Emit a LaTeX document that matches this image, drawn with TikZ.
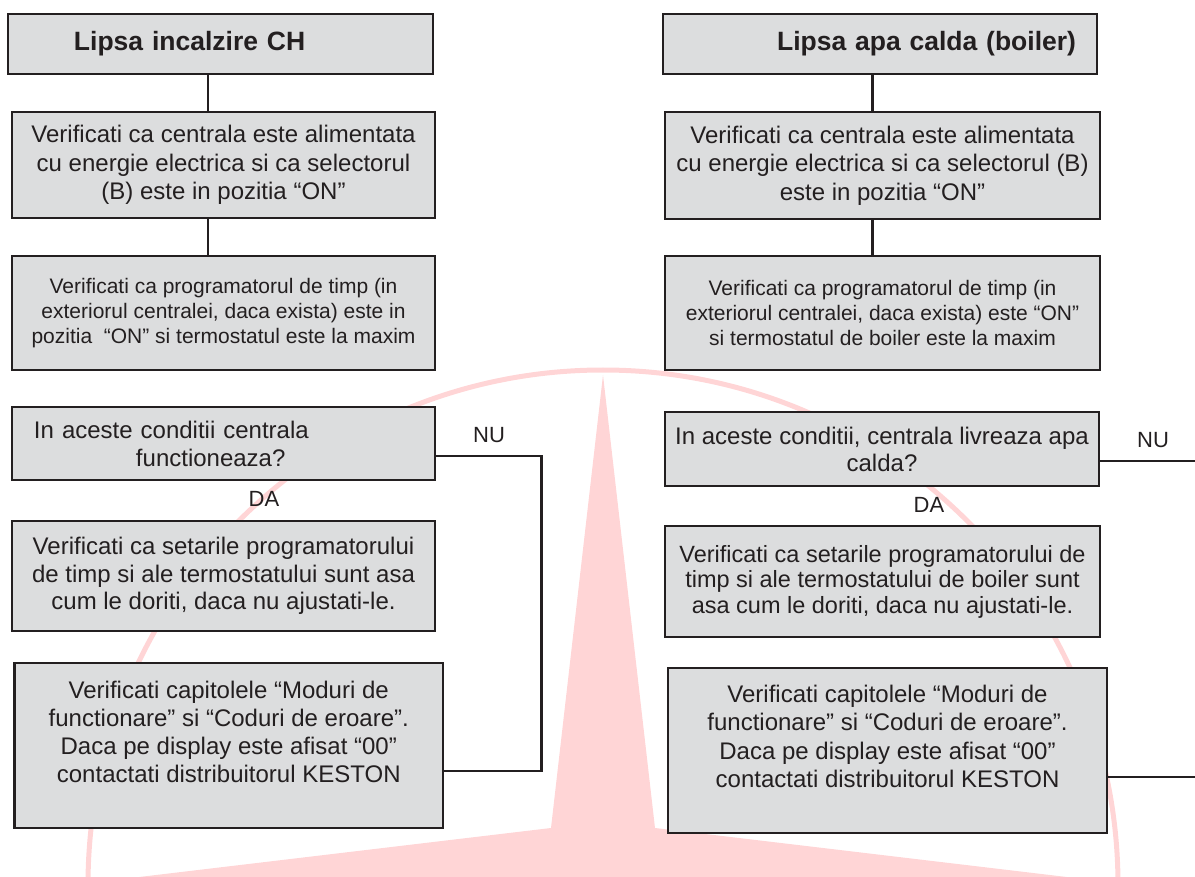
\documentclass[tikz,border=0pt]{standalone}
\usepackage{fontspec}
\setmainfont{Liberation Sans}
\definecolor{boxgray}{RGB}{220,221,222}
\definecolor{ink}{RGB}{35,31,32}
\definecolor{wmpink}{RGB}{255,213,214}
\tikzset{
  bx/.style={draw=ink, fill=boxgray, line width=2.7pt, inner sep=0pt, text=ink, align=center,
    font=\fontsize{24}{28.5}\selectfont},
  lbl/.style={text=ink, inner sep=0pt, font=\fontsize{22}{26}\selectfont},
  link/.style={draw=ink, line width=2.4pt},
}
\begin{document}
\begin{tikzpicture}[x=1pt,y=-1pt]
\useasboundingbox (0,0) rectangle (1195,877);
% watermark
\begin{scope}
  \clip (0,0) rectangle (1195,877);
  \fill[wmpink] (603,375) -- (655,828) -- (1134,885) -- (655,942) -- (603,1395) -- (551,942) -- (72,885) -- (551,828) -- cycle;
  \draw[wmpink, line width=5pt] (603,885) circle[radius=515pt];
\end{scope}

% left column
\node[bx, minimum width=425pt, minimum height=60pt, text width=425pt, align=left,
      font=\fontsize{26.5}{30}\selectfont\bfseries] (L1) at (220.5,44) {\hspace*{66pt}Lipsa incalzire CH};
\node[bx, minimum width=423pt, minimum height=106pt] (L2) at (223.5,165)
  {Verificati ca centrala este alimentata\\cu energie electrica si ca selectorul\\(B) este in pozitia “ON”};
\node[bx, minimum width=423pt, minimum height=114pt, font=\fontsize{21}{25}\selectfont] (L3) at (223.5,313)
  {Verificati ca programatorul de timp (in\\exteriorul centralei, daca exista) este in\\pozitia\ \ “ON” si termostatul este la maxim};
\node[bx, minimum width=423pt, minimum height=73pt, text width=423pt, align=left,
      font=\fontsize{24}{28}\selectfont] (L4) at (223.5,443.5)
  {\hspace*{22pt}In aceste conditii centrala\\\hspace*{124pt}functioneaza?};
\node[bx, minimum width=423pt, minimum height=110pt, font=\fontsize{24}{27.5}\selectfont] (L5) at (223.5,576)
  {Verificati ca setarile programatorului\\de timp si ale termostatului sunt asa\\cum le doriti, daca nu ajustati-le.};
\node[bx, minimum width=428.5pt, minimum height=165pt, font=\fontsize{24}{28}\selectfont] (L6) at (228.75,745.5)
  {Verificati capitolele “Moduri de\\functionare” si “Coduri de eroare”.\\Daca pe display este afisat “00”\\contactati distribuitorul KESTON\\\mbox{}};

% right column
\node[bx, minimum width=434pt, minimum height=60pt, text width=434pt, align=right,
      font=\fontsize{26.5}{30}\selectfont\bfseries] (R1) at (880,44) {Lipsa apa calda (boiler)\hspace*{21pt}};
\node[bx, minimum width=435pt, minimum height=107pt] (R2) at (882.5,165.5)
  {Verificati ca centrala este alimentata\\cu energie electrica si ca selectorul (B)\\este in pozitia “ON”};
\node[bx, minimum width=435pt, minimum height=114pt, font=\fontsize{21}{25}\selectfont] (R3) at (882.5,313)
  {Verificati ca programatorul de timp (in\\exteriorul centralei, daca exista) este “ON”\\si termostatul de boiler este la maxim};
\node[bx, minimum width=434pt, minimum height=74pt, font=\fontsize{24}{27}\selectfont] (R4) at (882,449)
  {In aceste conditii, centrala livreaza apa\\calda?};
\node[bx, minimum width=435pt, minimum height=111pt, font=\fontsize{23.5}{25.5}\selectfont] (R5) at (882.5,581.5)
  {Verificati ca setarile programatorului de\\timp si ale termostatului de boiler sunt\\asa cum le doriti, daca nu ajustati-le.};
\node[bx, minimum width=439pt, minimum height=165pt, font=\fontsize{24}{28.5}\selectfont] (R6) at (887.5,750.5)
  {Verificati capitolele “Moduri de\\functionare” si “Coduri de eroare”.\\Daca pe display este afisat “00”\\contactati distribuitorul KESTON\\\mbox{}};

% labels
\node[lbl] (nuL) at (489,435) {NU};
\node[lbl] (daL) at (264,499) {DA};
\node[lbl] (nuR) at (1153,440) {NU};
\node[lbl] (daR) at (929,505) {DA};

% connectors
\draw[link] ([xshift=-12.5pt]L1.south) -- ([xshift=-15.5pt]L2.north);
\draw[link] ([xshift=-15.5pt]L2.south) -- ([xshift=-15.5pt]L3.north);
\draw[link] ([xshift=-7.5pt]R1.south) -- ([xshift=-10pt]R2.north);
\draw[link] ([xshift=-10pt]R2.south) -- ([xshift=-10pt]R3.north);

\coordinate (cL) at (541.5,456);
\draw[link] ([yshift=-12.5pt]L4.east) -- (cL) |- ([yshift=-25.5pt]L6.east);

\coordinate (eR1) at (1195,461);
\coordinate (eR2) at (1195,777);
\draw[link] ([yshift=-12pt]R4.east) -- (eR1);
\draw[link] ([yshift=-26.5pt]R6.east) -- (eR2);
\end{tikzpicture}
\end{document}
